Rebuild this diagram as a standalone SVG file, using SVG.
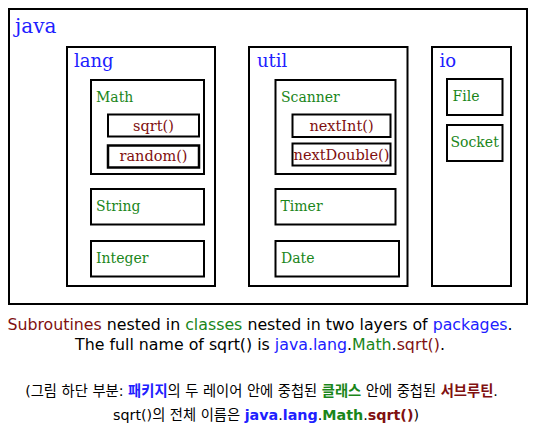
<svg xmlns="http://www.w3.org/2000/svg" width="537" height="434" viewBox="0 0 537 434">
<style>
.box{fill:#fff;stroke:#000;stroke-width:2}
.mbox{fill:#fff;stroke:#000;stroke-width:2.5}
.s{font-family:"DejaVu Serif",serif}
.pkg{font-size:18px;fill:#2020ff}
.cls{font-size:14px;fill:#1a861a}
.mth{font-size:14.5px;fill:#801010;text-anchor:middle}
.cap{font-family:"DejaVu Sans",sans-serif;font-size:15.8px;fill:#000;text-anchor:middle}
.kr{font-family:"DejaVu Sans","Noto Sans CJK KR",sans-serif;font-size:14.3px;fill:#000;text-anchor:middle}
.b{fill:#2020ff}.g{fill:#1a861a}.r{fill:#801010}
.bold{font-weight:bold}
</style>
<rect width="537" height="434" fill="#fff"/>
<g id="java">
<rect class="box" x="9" y="9" width="518" height="295"/>
<text class="s pkg" x="15" y="33" style="font-size:20px">java</text>
</g>
<g id="lang">
<rect class="box" x="67" y="47" width="148" height="239"/>
<text class="s pkg" x="74" y="66.5">lang</text>
</g>
<g id="Math">
<rect class="box" x="91" y="80" width="113" height="94"/>
<text class="s cls" x="96" y="102">Math</text>
</g>
<g id="sqrt">
<rect class="box" x="108" y="114.5" width="91" height="22"/>
<text class="s mth" x="153.5" y="130.5">sqrt()</text>
</g>
<g id="random">
<rect class="mbox" x="108" y="145.5" width="91" height="22"/>
<text class="s mth" x="153.5" y="161">random()</text>
</g>
<g id="String">
<rect class="box" x="91" y="189" width="113" height="35.5"/>
<text class="s cls" x="96" y="211">String</text>
</g>
<g id="Integer">
<rect class="box" x="91" y="241" width="113" height="35.5"/>
<text class="s cls" x="96" y="263">Integer</text>
</g>
<g id="util">
<rect class="box" x="249" y="47" width="158.5" height="239"/>
<text class="s pkg" x="257" y="66.5">util</text>
</g>
<g id="Scanner">
<rect class="box" x="275.5" y="80" width="120" height="94"/>
<text class="s cls" x="281" y="102">Scanner</text>
</g>
<g id="nextInt">
<rect class="box" x="292.5" y="114.5" width="98" height="22.5"/>
<text class="s mth" x="341.5" y="130.5">nextInt()</text>
</g>
<g id="nextDouble">
<rect class="box" x="292.5" y="143.5" width="98" height="22"/>
<text class="s mth" x="341.5" y="159.5" textLength="96" lengthAdjust="spacingAndGlyphs">nextDouble()</text>
</g>
<g id="Timer">
<rect class="box" x="275.5" y="189" width="120" height="35.5"/>
<text class="s cls" x="280.5" y="211">Timer</text>
</g>
<g id="Date">
<rect class="box" x="275.5" y="241" width="123.5" height="35.5"/>
<text class="s cls" x="281" y="263">Date</text>
</g>
<g id="io">
<rect class="box" x="432" y="47" width="79" height="239"/>
<text class="s pkg" x="439.5" y="66.5">io</text>
</g>
<g id="File">
<rect class="box" x="447" y="79" width="55.5" height="36"/>
<text class="s cls" x="452.5" y="101">File</text>
</g>
<g id="Socket">
<rect class="box" x="447" y="125" width="55.5" height="36"/>
<text class="s cls" x="450.5" y="147">Socket</text>
</g>
<g id="connectors"/>
<g id="caption">
<text class="cap" x="260" y="330"><tspan class="r">Subroutines</tspan> nested in <tspan class="g">classes</tspan> nested in two layers of <tspan class="b">packages</tspan>.</text>
<text class="cap" x="260" y="350">The full name of sqrt() is <tspan class="b">java.lang</tspan>.<tspan class="g">Math</tspan>.<tspan class="r">sqrt()</tspan>.</text>
<text class="kr" x="261.5" y="395.5">(그림 하단 부분: <tspan class="b bold">패키지</tspan>의 두 레이어 안에 중첩된 <tspan class="g bold">클래스</tspan> 안에 중첩된 <tspan class="r bold">서브루틴</tspan>.</text>
<text class="kr" x="266" y="420">sqrt()의 전체 이름은 <tspan class="b bold">java</tspan>.<tspan class="b bold">lang</tspan>.<tspan class="g bold">Math</tspan>.<tspan class="r bold">sqrt()</tspan>)</text>
</g>
</svg>
